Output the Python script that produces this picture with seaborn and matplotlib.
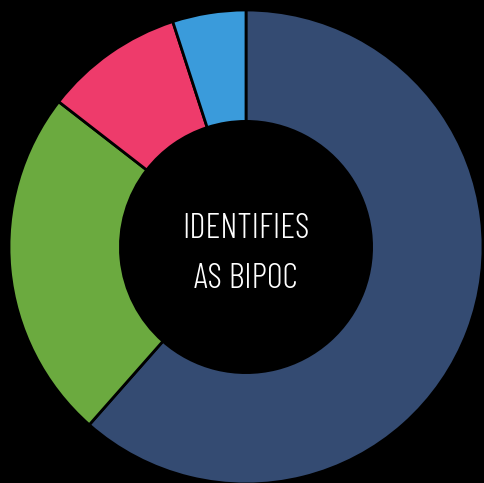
import matplotlib
matplotlib.use("Agg")
import matplotlib.pyplot as plt
import seaborn as sns

categories = ["Group A", "Group B", "Group C", "Group D"]
values = [61.5, 24, 9.5, 5]
colors = ["#344B72", "#6BAA3F", "#EE3B6B", "#3A9BDB"]
center_lines = ["IDENTIFIES", "AS BIPOC"]

sns.set_theme(style="white")
plt.rcParams['font.family'] = ['Barlow Condensed', 'DejaVu Sans']

fig = plt.figure(figsize=(4.84, 4.83), dpi=100, facecolor="black")
ax = fig.add_axes([0, 0, 1, 1])
ax.set_facecolor("black")

ax.pie(values, colors=colors, startangle=90, counterclock=False,
       radius=1.0,
       wedgeprops=dict(width=0.47, edgecolor="black", linewidth=2))

r = 237.0
baselines = [(247 - 238) / r, (247 - 288) / r]
for line, yb in zip(center_lines, baselines):
    ax.text(0, yb, line, ha="center", va="baseline", color="white",
            fontsize=25, fontweight=300, fontstretch="condensed")

ax.set_xlim(-246 / r, (484 - 246) / r)
ax.set_ylim(-236 / r, 247 / r)
ax.set_aspect("auto")
ax.axis("off")

fig.savefig("out.png", dpi=100, facecolor="black")
